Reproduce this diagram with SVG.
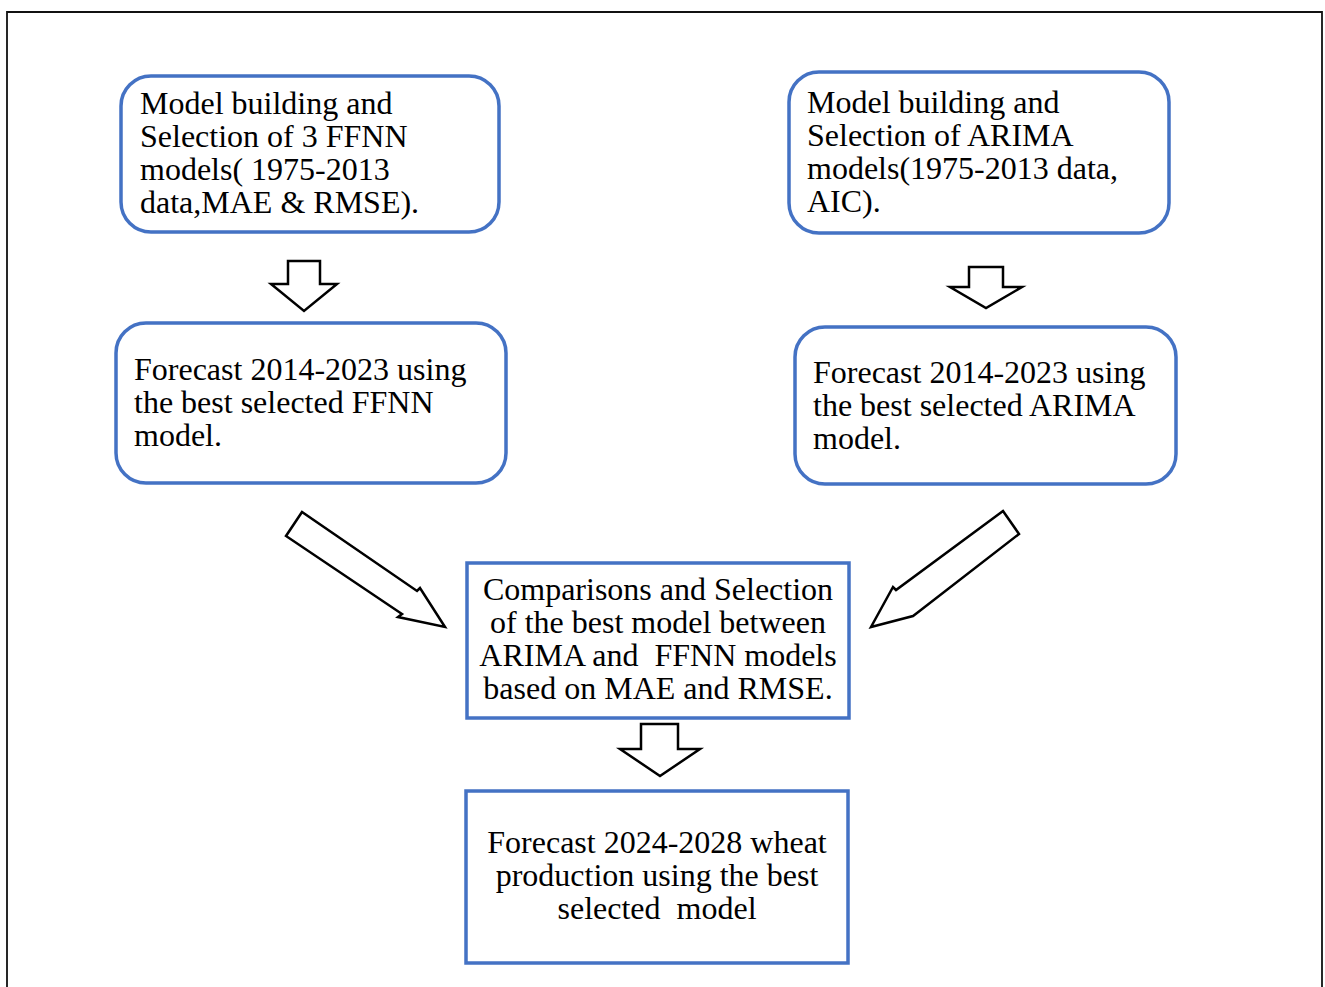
<svg xmlns="http://www.w3.org/2000/svg" width="1325" height="987" viewBox="0 0 1325 987">
<style>
.box{fill:#fff;stroke:#4472C4;stroke-width:3.5}
.arr{fill:#fff;stroke:#000;stroke-width:2.5;stroke-linejoin:miter}
text{font-family:"Liberation Serif","Times New Roman",serif;font-size:32px;fill:#000}
.c{text-anchor:middle}
</style>
<rect width="1325" height="987" fill="#fff"/>
<path d="M7,995 V12 H1322 V995" fill="none" stroke="#111" stroke-width="1.8"/>
<g id="n1">
<rect class="box" x="121" y="76" width="378" height="156" rx="30"/>
<text x="140" y="114">Model building and</text>
<text x="140" y="147">Selection of 3 FFNN</text>
<text x="140" y="180">models( 1975-2013</text>
<text x="140" y="213">data,MAE &amp; RMSE).</text>
</g>
<g id="n2">
<rect class="box" x="789" y="72" width="380" height="161" rx="30"/>
<text x="807" y="113">Model building and</text>
<text x="807" y="146">Selection of ARIMA</text>
<text x="807" y="179">models(1975-2013 data,</text>
<text x="807" y="212">AIC).</text>
</g>
<g id="n3">
<rect class="box" x="116" y="323" width="390" height="160" rx="30"/>
<text x="134" y="380">Forecast 2014-2023 using</text>
<text x="134" y="413">the best selected FFNN</text>
<text x="134" y="446">model.</text>
</g>
<g id="n4">
<rect class="box" x="795" y="327" width="381" height="157" rx="30"/>
<text x="813" y="383">Forecast 2014-2023 using</text>
<text x="813" y="416">the best selected ARIMA</text>
<text x="813" y="449">model.</text>
</g>
<g id="n5">
<rect class="box" x="467" y="563" width="382" height="155"/>
<text class="c" x="658" y="600">Comparisons and Selection</text>
<text class="c" x="658" y="633">of the best model between</text>
<text class="c" x="658" y="666" xml:space="preserve">ARIMA and  FFNN models</text>
<text class="c" x="658" y="699">based on MAE and RMSE.</text>
</g>
<g id="n6">
<rect class="box" x="466" y="791" width="382" height="172"/>
<text class="c" x="657" y="853">Forecast 2024-2028 wheat</text>
<text class="c" x="657" y="886">production using the best</text>
<text class="c" x="657" y="919" xml:space="preserve">selected  model</text>
</g>
<g id="connectors">
<polygon class="arr" points="288,261 320,261 320,284 337,284 304,311 271,284 288,284"/>
<polygon class="arr" points="969,267 1003,267 1003,287 1022,287 986,308 950,287 969,287"/>
<polygon class="arr" points="641,724 678,724 678,749 700,749 660,776 620,749 641,749"/>
<polygon class="arr" points="302,512 286,536 402,614 398,617 445,627 420,588 417,591"/>
<polygon class="arr" points="1003,511 1019,534 917,613 913,616 871,627 893,587 896,590"/>
</g>
</svg>
